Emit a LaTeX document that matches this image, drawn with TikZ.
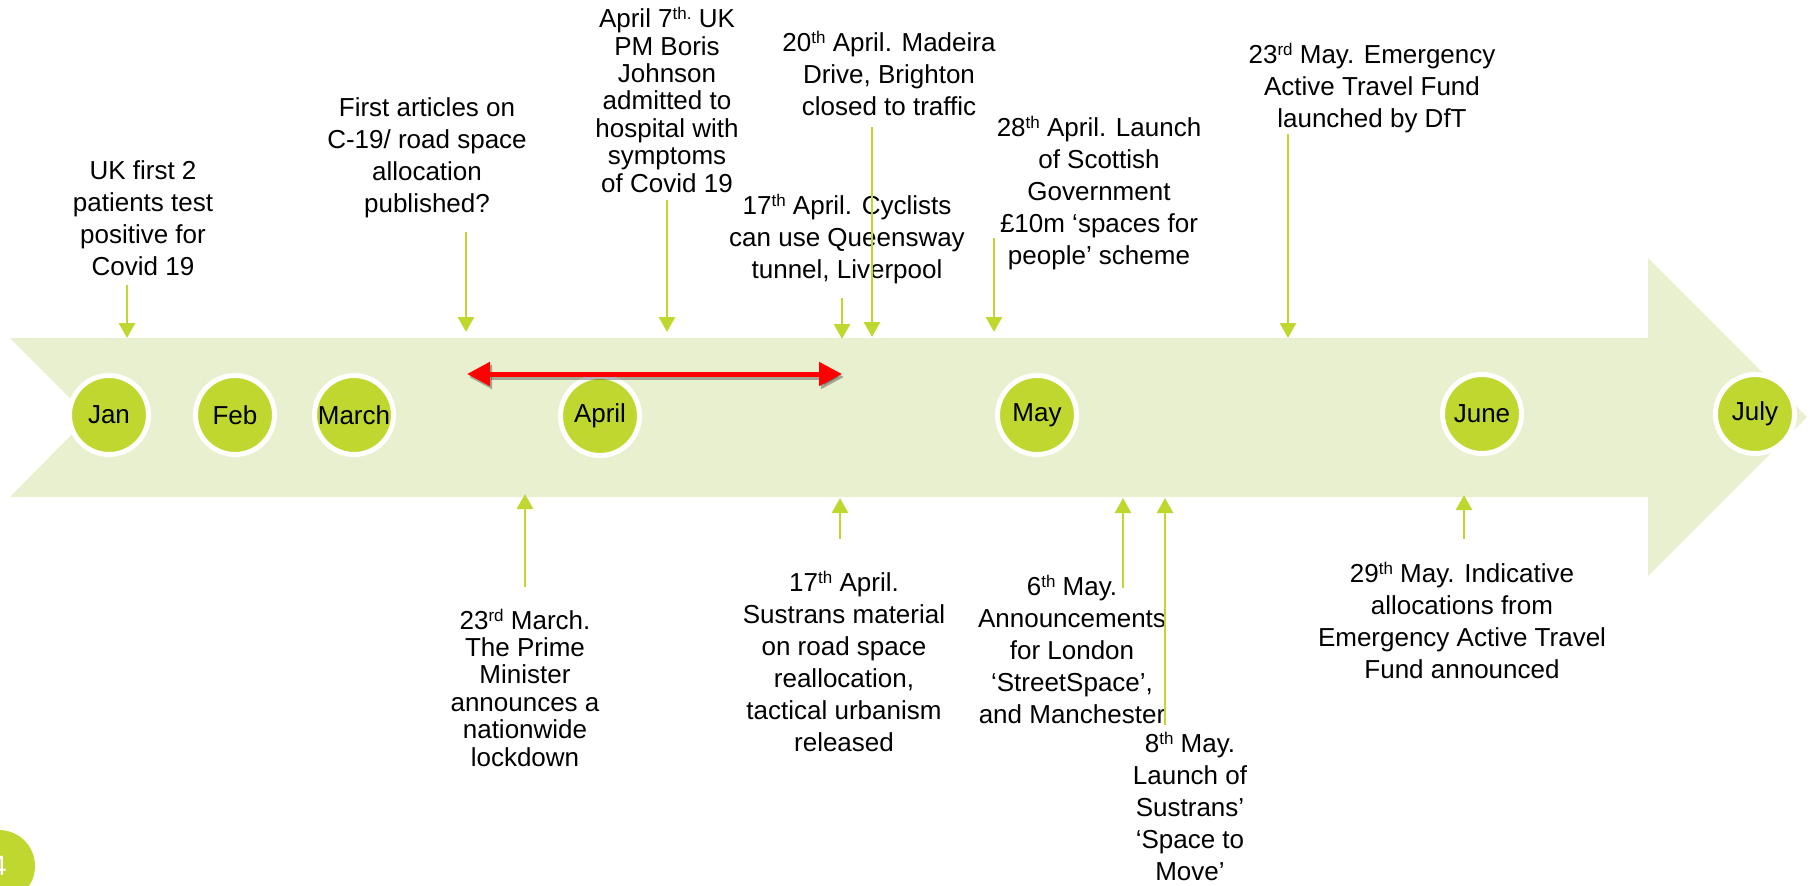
\documentclass[tikz,border=0pt]{standalone}
\usepackage{fontspec}
\setmainfont{Liberation Sans}
\usetikzlibrary{arrows.meta}
\usetikzlibrary{positioning}
\definecolor{bandgreen}{RGB}{232,240,208}
\definecolor{limegreen}{RGB}{192,215,47}
\newcommand{\ordsup}[1]{\raisebox{0.3em}{\fontsize{17}{17}\selectfont #1}}

\begin{document}
\begin{tikzpicture}
  [x=1pt,y=-1pt,
  month/.style={circle,draw=white,fill=limegreen,line width=5pt,inner sep=0pt,minimum size=79pt,font=\fontsize{26}{30}\selectfont},
  event/.style={align=center,anchor=base,inner sep=0pt,font=\fontsize{26}{32}\selectfont},
  tightevent/.style={event,font=\fontsize{26}{27.4}\selectfont},
  link/.style={limegreen,line width=2.7pt,-{Triangle[width=16pt,length=15pt]}},
  redspan/.style={red,line width=5pt,{Triangle[width=23pt,length=23pt]}-{Triangle[width=23pt,length=23pt]}}]
  \useasboundingbox (0,0) rectangle (1810,886);

  \fill[bandgreen] (10,338) -- (1648,338) -- (1648,258) -- (1807,417) -- (1648,576)
    -- (1648,497) -- (10,497) -- (89,417) -- cycle;

  \node[month] (jan) at (109,415) {Jan};
  \node[month] (feb) at (235,415) {Feb};
  \node[month] (mar) at (354,415) {March};
  \node[month] (apr) at (600,416) {April};
  \node[month] (may) at (1037,415) {May};
  \node[month] (jun) at (1482,414) {June};
  \node[month] (jul) at (1755,414) {July};

  \coordinate (redL) at (467,374);
  \coordinate (redR) at (842,374);
  \draw[redspan,black,opacity=.3,transform canvas={shift={(2pt,-3pt)}}] (redL) -- (redR);
  \draw[redspan] (redL) -- (redR);

  % events, placed at the baseline of their last line
  \node[event] (ukfirst) at (143,275) {UK first 2\\patients test\\positive for\\Covid 19};
  \node[event] (articles) at (427,212) {First articles on\\C-19/ road space\\allocation\\published?};
  \node[tightevent] (boris) at (667,192) {April 7\ordsup{th.} UK\\PM Boris\\Johnson\\admitted to\\hospital with\\symptoms\\of Covid 19};
  \node[event] (madeira) at (889,115) {20\ordsup{th} April. Madeira\\Drive, Brighton\\closed to traffic};
  \node[event] (queensway) at (847,278) {17\ordsup{th} April. Cyclists\\can use Queensway\\tunnel, Liverpool};
  \node[event] (scotland) at (1099,264) {28\ordsup{th} April. Launch\\of Scottish\\Government\\£10m ‘spaces for\\people’ scheme};
  \node[event] (eatf) at (1372,127) {23\ordsup{rd} May. Emergency\\Active Travel Fund\\launched by DfT};

  \node[tightevent] (lockdown) at (525,766) {23\ordsup{rd} March.\\The Prime\\Minister\\announces a\\nationwide\\lockdown};
  \node[event] (sustrans) at (844,751) {17\ordsup{th} April.\\Sustrans material\\on road space\\reallocation,\\tactical urbanism\\released};
  \node[event] (london) at (1072,723) {6\ordsup{th} May.\\Announcements\\for London\\‘StreetSpace’,\\and Manchester};
  \node[event] (spacemove) at (1190,880) {8\ordsup{th} May.\\Launch of\\Sustrans’\\‘Space to\\Move’};
  \node[event] (allocations) at (1462,678) {29\ordsup{th} May. Indicative\\allocations from\\Emergency Active Travel\\Fund announced};

  \coordinate (ukfirstA) at (127,285);   \coordinate (ukfirstB) at (127,338);
  \coordinate (articlesA) at (466,232);  \coordinate (articlesB) at (466,332);
  \coordinate (borisA) at (667,200);     \coordinate (borisB) at (667,332);
  \coordinate (madeiraA) at (872,127);   \coordinate (madeiraB) at (872,337);
  \coordinate (queenswayA) at (842,298); \coordinate (queenswayB) at (842,339);
  \coordinate (scotlandA) at (994,238);  \coordinate (scotlandB) at (994,332);
  \coordinate (eatfA) at (1288,134);     \coordinate (eatfB) at (1288,338);
  \coordinate (lockdownA) at (525,587);  \coordinate (lockdownB) at (525,494);
  \coordinate (sustransA) at (840,539);  \coordinate (sustransB) at (840,498);
  \coordinate (londonA) at (1123,588);   \coordinate (londonB) at (1123,498);
  \coordinate (spacemoveA) at (1165,725); \coordinate (spacemoveB) at (1165,498);
  \coordinate (allocationsA) at (1464,539); \coordinate (allocationsB) at (1464,495);

  \foreach \ev in {ukfirst,articles,boris,madeira,queensway,scotland,eatf,lockdown,sustrans,london,spacemove,allocations}
    \draw[link] (\ev A) -- (\ev B);

  \node[circle,fill=limegreen,minimum size=72pt,inner sep=0pt,text=white,font=\fontsize{28}{30}\selectfont] (slideno) at (-1,866) {4};
\end{tikzpicture}
\end{document}
